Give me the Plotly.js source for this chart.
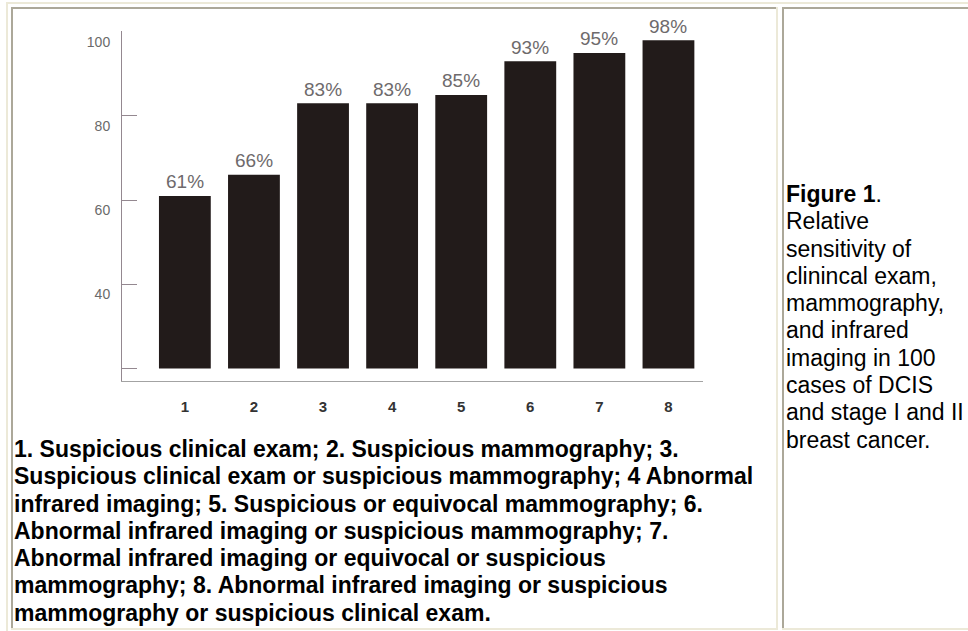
<!DOCTYPE html>
<html>
<head>
<meta charset="utf-8">
<script src="https://cdn.plot.ly/plotly-3.0.1.min.js"></script>
<style>
html,body{margin:0;padding:0;background:#ffffff;width:968px;height:631px;overflow:hidden;}
#wrap{position:relative;width:968px;height:631px;}
#chart{position:absolute;left:0;top:0;width:968px;height:631px;}
.bd{position:absolute;}
.light{background:#ece9d8;}
.dark{background:#aca899;}
#caption{position:absolute;left:14px;top:436px;font-family:"Liberation Sans",Arial,sans-serif;font-weight:bold;font-size:23px;line-height:27.3px;color:#000;white-space:nowrap;}
#side{position:absolute;left:786px;top:181px;font-family:"Liberation Sans",Arial,sans-serif;font-size:23px;line-height:27.3px;color:#000;white-space:nowrap;}
</style>
</head>
<body>
<div id="wrap">
  <div id="chart"></div>
  <div class="bd light" style="left:6px;top:2px;width:962px;height:2px;"></div>
  <div class="bd light" style="left:6px;top:2px;width:2px;height:629px;"></div>
  <div class="bd dark" style="left:11px;top:7px;width:767px;height:2px;"></div>
  <div class="bd dark" style="left:11px;top:7px;width:2px;height:623px;"></div>
  <div class="bd light" style="left:776px;top:7px;width:2px;height:623px;"></div>
  <div class="bd light" style="left:11px;top:628px;width:767px;height:2px;"></div>
  <div class="bd dark" style="left:782px;top:7px;width:186px;height:2px;"></div>
  <div class="bd dark" style="left:782px;top:7px;width:2px;height:623px;"></div>
  <div class="bd light" style="left:782px;top:628px;width:186px;height:2px;"></div>
  <div id="caption"></div>
  <div id="side"></div>
</div>
<script>
// ---- data ----
var categories = [1, 2, 3, 4, 5, 6, 7, 8];
var sensitivity = [61, 66, 83, 83, 85, 93, 95, 98];
var pctLabels = ['61%', '66%', '83%', '83%', '85%', '93%', '95%', '98%'];
var xTickText = ['1', '2', '3', '4', '5', '6', '7', '8'];
var yTickVals = [20, 40, 60, 80, 100];
var yTickText = ['', '40', '60', '80', '100'];
var barBase = 20;
var captionLines = [
  '1. Suspicious clinical exam; 2. Suspicious mammography; 3.',
  'Suspicious clinical exam or suspicious mammography; 4 Abnormal',
  'infrared imaging; 5. Suspicious or equivocal mammography; 6.',
  'Abnormal infrared imaging or suspicious mammography; 7.',
  'Abnormal infrared imaging or equivocal or suspicious',
  'mammography; 8. Abnormal infrared imaging or suspicious',
  'mammography or suspicious clinical exam.'
];
var sideTitle = 'Figure 1';
var sideLines = [
  'Relative',
  'sensitivity of',
  'clinincal exam,',
  'mammography,',
  'and infrared',
  'imaging in 100',
  'cases of DCIS',
  'and stage I and II',
  'breast cancer.'
];

// ---- text ----
document.getElementById('caption').innerHTML = captionLines.join('<br>');
document.getElementById('side').innerHTML = '<b>' + sideTitle + '</b>.<br>' + sideLines.join('<br>');

// ---- chart ----
var W = 968, H = 631;
var bars = {
  type: 'bar',
  x: categories,
  y: sensitivity.map(function (v) { return v - barBase; }),
  base: barBase,
  width: 0.75,
  marker: {color: '#221b1a', line: {width: 0}},
  hoverinfo: 'skip'
};

var annotations = categories.map(function (c, i) {
  return {
    x: c, y: sensitivity[i], xref: 'x', yref: 'y',
    text: pctLabels[i], showarrow: false,
    yanchor: 'middle', xanchor: 'center', yshift: 14,
    font: {family: 'Liberation Sans, Arial, sans-serif', size: 19, color: '#6e6a6c'}
  };
});

var layout = {
  width: W, height: H,
  margin: {l: 0, r: 0, t: 0, b: 0, pad: 0},
  paper_bgcolor: 'rgba(0,0,0,0)',
  plot_bgcolor: 'rgba(0,0,0,0)',
  showlegend: false,
  xaxis: {
    domain: [122 / W, 703 / W],
    range: [0.09, 8.5],
    tickmode: 'array', tickvals: categories, ticktext: xTickText,
    ticks: '', showline: true, linecolor: '#a3a3a3', linewidth: 1,
    showgrid: false, zeroline: false,
    tickfont: {family: 'Liberation Sans, Arial, sans-serif', size: 15, color: '#333333', weight: 'bold'},
    ticklabelstandoff: 12,
    fixedrange: true
  },
  yaxis: {
    domain: [(H - 381) / H, (H - 31) / H],
    range: [17.0, 100.2],
    tickmode: 'array', tickvals: yTickVals, ticktext: yTickText,
    ticks: 'inside', ticklen: 15, tickwidth: 1, tickcolor: '#948890',
    showline: true, linecolor: '#948890', linewidth: 1,
    showgrid: false, zeroline: false,
    tickfont: {family: 'Liberation Sans, Arial, sans-serif', size: 14, color: '#6a6a6a'},
    ticklabelshift: 10,
    ticklabelstandoff: 8,
    fixedrange: true
  },
  annotations: annotations
};

Plotly.newPlot('chart', [bars], layout, {displayModeBar: false, staticPlot: true});
</script>
</body>
</html>
